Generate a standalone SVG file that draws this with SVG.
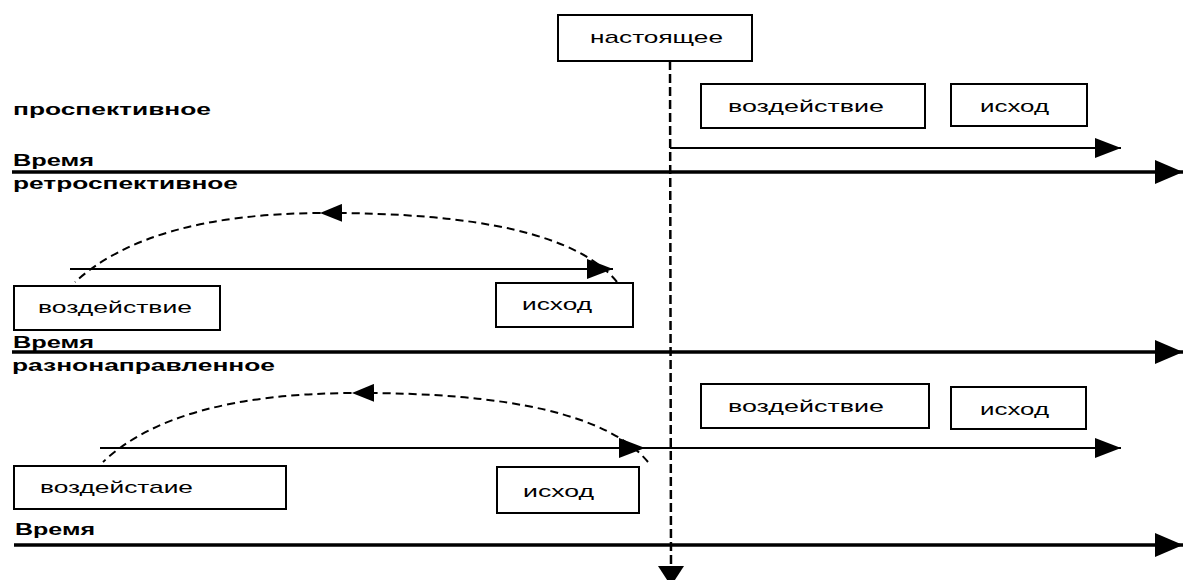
<svg xmlns="http://www.w3.org/2000/svg" width="1183" height="580" viewBox="0 0 1183 580">
<style>
  .box rect { fill: #fff; stroke: #000; stroke-width: 2; }
  .box text { font-family: "Liberation Sans", Arial, sans-serif; font-size: 17px; fill: #000; }
  .lbl { font-family: "Liberation Sans", Arial, sans-serif; font-size: 16px; font-weight: bold; fill: #000; }
  .axis { stroke: #000; stroke-width: 3.5; fill: none; }
  .arr { stroke: #000; stroke-width: 2; fill: none; }
  .arc { stroke: #000; stroke-width: 2; fill: none; stroke-dasharray: 8 5; }
  .now { stroke: #000; stroke-width: 2.5; fill: none; stroke-dasharray: 9 4; }
</style>
<defs>
  <marker id="big" markerUnits="userSpaceOnUse" markerWidth="28" markerHeight="24" refX="28" refY="12" orient="auto">
    <path d="M0,0 L28,12 L0,24 z" fill="#000"/>
  </marker>
  <marker id="small" markerUnits="userSpaceOnUse" markerWidth="26" markerHeight="20" refX="26" refY="10" orient="auto">
    <path d="M0,0 L26,10 L0,20 z" fill="#000"/>
  </marker>
  <marker id="mid" markerUnits="userSpaceOnUse" markerWidth="22" markerHeight="18" refX="22" refY="9" orient="auto">
    <path d="M0,0 L22,9 L0,18 z" fill="#000"/>
  </marker>
  <marker id="down" markerUnits="userSpaceOnUse" markerWidth="26" markerHeight="20" refX="20" refY="13" orient="auto">
    <path d="M0,0 L20,13 L0,26 z" fill="#000"/>
  </marker>
</defs>

<g id="labels">
  <text class="lbl" x="13" y="115" textLength="198" lengthAdjust="spacingAndGlyphs">проспективное</text>
  <text class="lbl" x="13" y="166" textLength="81" lengthAdjust="spacingAndGlyphs">Время</text>
  <text class="lbl" x="13" y="189" textLength="225" lengthAdjust="spacingAndGlyphs">ретроспективное</text>
  <text class="lbl" x="13" y="348" textLength="81" lengthAdjust="spacingAndGlyphs">Время</text>
  <text class="lbl" x="12" y="371" textLength="263" lengthAdjust="spacingAndGlyphs">разнонаправленное</text>
  <text class="lbl" x="15" y="535" textLength="80" lengthAdjust="spacingAndGlyphs">Время</text>
</g>

<g id="connectors">
  <!-- time axes -->
  <path class="axis" d="M12,172 L1183,172" marker-end="url(#big)"/>
  <path class="axis" d="M12,352 L1183,352" marker-end="url(#big)"/>
  <path class="axis" d="M14,545 L1183,545" marker-end="url(#big)"/>
  <!-- present line -->
  <path class="now" d="M670,61 L671,566"/>
  <path d="M658,566 L684,566 L671,586 z" fill="#000"/>
  <!-- prospective -->
  <path class="arr" d="M670,148 L1121,148" marker-end="url(#small)"/>
  <!-- retrospective -->
  <path class="arr" d="M70,269 L613,269" marker-end="url(#small)"/>
  <path class="arc" d="M617,282 Q560,212 320,213 Q150,214 75,282" marker-mid="url(#mid)"/>
  <!-- multidirectional -->
  <path class="arr" d="M100,448 L645,448" marker-end="url(#small)"/>
  <path class="arr" d="M645,448 L1121,448" marker-end="url(#small)"/>
  <path class="arc" d="M648,462 Q590,392 352,393 Q175,394 103,462" marker-mid="url(#mid)"/>
</g>

<g id="node-now" class="box">
  <rect x="558" y="15" width="194" height="46"/>
  <text x="590" y="43" textLength="133" lengthAdjust="spacingAndGlyphs">настоящее</text>
</g>
<g id="node-pro-impact" class="box">
  <rect x="701" y="84" width="224" height="44"/>
  <text x="728" y="112" textLength="156" lengthAdjust="spacingAndGlyphs">воздействие</text>
</g>
<g id="node-pro-outcome" class="box">
  <rect x="951" y="84" width="136" height="42"/>
  <text x="980" y="112" textLength="69" lengthAdjust="spacingAndGlyphs">исход</text>
</g>
<g id="node-retro-impact" class="box">
  <rect x="14" y="286" width="206" height="44"/>
  <text x="38" y="313" textLength="154" lengthAdjust="spacingAndGlyphs">воздействие</text>
</g>
<g id="node-retro-outcome" class="box">
  <rect x="496" y="283" width="137" height="44"/>
  <text x="522" y="310" textLength="70" lengthAdjust="spacingAndGlyphs">исход</text>
</g>
<g id="node-multi-impact-right" class="box">
  <rect x="701" y="384" width="228" height="44"/>
  <text x="728" y="412" textLength="156" lengthAdjust="spacingAndGlyphs">воздействие</text>
</g>
<g id="node-multi-outcome-right" class="box">
  <rect x="951" y="387" width="135" height="42"/>
  <text x="980" y="415" textLength="69" lengthAdjust="spacingAndGlyphs">исход</text>
</g>
<g id="node-multi-impact-left" class="box">
  <rect x="14" y="466" width="272" height="43"/>
  <text x="40" y="493" textLength="153" lengthAdjust="spacingAndGlyphs">воздейстаие</text>
</g>
<g id="node-multi-outcome-left" class="box">
  <rect x="497" y="467" width="142" height="46"/>
  <text x="523" y="497" textLength="71" lengthAdjust="spacingAndGlyphs">исход</text>
</g>
</svg>
